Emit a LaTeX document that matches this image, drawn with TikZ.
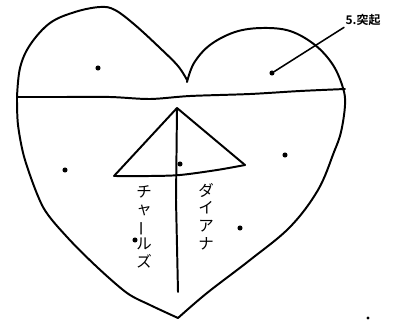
\documentclass[tikz,border=0pt]{standalone}
\usepackage{fontspec}
\usepackage{graphicx}
\usepackage{tikz}
\usetikzlibrary{positioning,calc}
\newfontfamily\jpfont{Noto Sans CJK JP}[BoldFont={Noto Sans CJK JP Bold}]
\tikzset{
  pen/.style={line width=1.4pt,line cap=round,line join=round},
  spot/.style={circle,fill=black,inner sep=0pt,minimum size=3.6pt},
  tate/.style={font=\jpfont\fontsize{11}{12.5}\selectfont,align=center,inner sep=0pt}
}
\newcommand{\tatebar}{\rotatebox[origin=c]{90}{ー}}

\begin{document}
\begin{tikzpicture}[x=0.025cm,y=-0.025cm]
\path[use as bounding box,fill=white] (0,0) rectangle (400,322);
% heart outline
\draw[pen] plot[smooth,tension=0.6] coordinates {(17,97) (20,68) (30,45) (50,23) (75,12) (100,7) (115,10) (135,25) (160,48) (178,66) (187,80)};
\draw[pen] plot[smooth,tension=0.6] coordinates {(187,82) (194,63) (210,45) (235,32) (262,28) (290,31) (315,45) (333,65) (343,88) (345,105) (341,132) (334,152) (318,190) (290,227) (250,260) (207,293) (178,318)};
\draw[pen] plot[smooth,tension=0.5] coordinates {(178,318) (150,305) (127,293) (97,267) (67,237) (43,207) (25,160) (18,125) (17,97)};
\draw[pen] plot[smooth,tension=0.5] coordinates {(17,97) (60,97) (110,97) (150,99) (190,96) (250,94) (300,91) (345,89)};
% triangle and axis
\coordinate (apex) at (177,108);
\coordinate (lc) at (114,176);
\coordinate (rc) at (245,165);
\coordinate (foot) at (178,292);
\draw[pen] (lc) -- (apex) -- (rc);
\draw[pen] plot[smooth,tension=0.5] coordinates {(114,176) (150,176) (180,175) (217,170) (245,165)};
\draw[pen] (apex) -- (176,200) -- (foot);
% dots
\node[spot] (d1) at (98,68) {};
\node[spot] (d2) at (272,73) {};
\node[spot] (d3) at (65,170) {};
\node[spot] (d4) at (180,164) {};
\node[spot] (d5) at (285,155) {};
\node[spot] (d6) at (240,228) {};
\node[spot] (d7) at (135,240) {};
\node[spot,minimum size=2.4pt] (d8) at (368,318) {};
% labels
\node[font=\jpfont\bfseries\fontsize{8.5}{9}\selectfont,anchor=west,inner sep=1pt] (tok) at (344,20) {5.突起};
\draw[pen,line width=1.1pt] (d2) -- (tok.south west);
\node[tate,anchor=north] (charles) at (144,185) {チ\\ャ\\\tatebar\\ル\\ズ};
\node[tate,anchor=north] (diana) at (206,183) {ダ\\イ\\ア\\ナ};
\end{tikzpicture}
\end{document}
